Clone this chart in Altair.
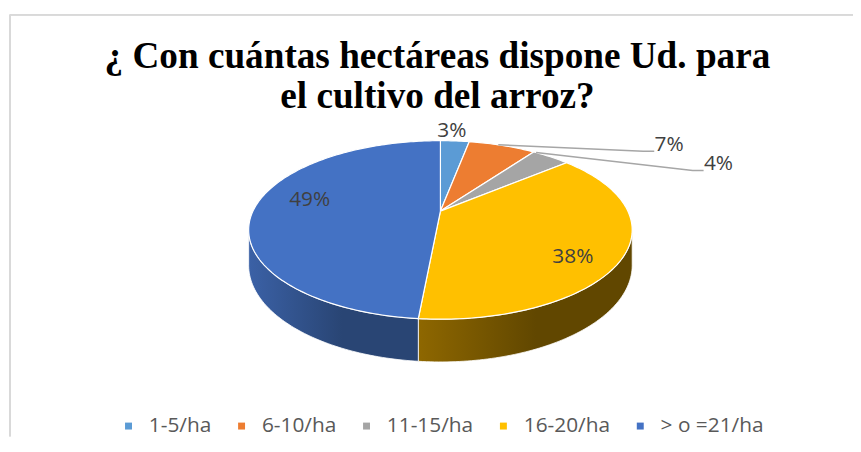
import math
import altair as alt
import pandas as pd

# ---------------- data ----------------
categories = ["1-5/ha", "6-10/ha", "11-15/ha", "16-20/ha", "> o =21/ha"]
percent_values = [3, 7, 4, 38, 49]
percent_labels = ["3%", "7%", "4%", "38%", "49%"]

title_lines = ["¿ Con cuántas hectáreas dispone Ud. para", "el cultivo del arroz?"]

# ---------------- styles ----------------
top_colors = ["#5B9BD5", "#ED7D31", "#A5A5A5", "#FFC000", "#4472C4"]
side_colors = [
    ("#44749F", "#2F5275"),
    ("#B25E25", "#7E421A"),
    ("#7D7D7D", "#585858"),
    ("#8E6700", "#614700"),
    ("#3B61A6", "#294574"),
]

# ---------------- layout (plot-area pixel units) ----------------
W, H = 852, 425
CX, CY = 436, 198
RX, RY, K, DEPTH = 189, 86, 0.211, 34

# label placement: angle shift from slice middle (deg), radius factor
label_shift = [-1.6, 34.5, 27.0, 10.0, 8.0]
label_radius = [1.17, 1.725, 1.787, 0.80, 0.73]
leader_attach = [None, 0.44, 0.07, None, None]


def project(theta_deg, r=1.0, drop=0.0):
    t = math.radians(theta_deg)
    X = r * math.sin(t)
    Z = -r * math.cos(t)
    den = 1 - K * Z
    return CX + RX * X / den, CY + (RY * Z + drop) / den


def arc(t0, t1, drop=0.0):
    n = max(2, int(math.ceil(abs(t1 - t0))) + 1)
    return [project(t0 + (t1 - t0) * j / (n - 1), 1.0, drop) for j in range(n)]


total = sum(percent_values)
starts, ends = [], []
acc = 0.0
for v in percent_values:
    starts.append(acc / total * 360)
    acc += v
    ends.append(acc / total * 360)

# top faces
top_rows = []
for cat, t0, t1 in zip(categories, starts, ends):
    pts = [(CX, CY)] + arc(t0, t1) + [(CX, CY)]
    for i, (x, y) in enumerate(pts):
        top_rows.append({"slice": cat, "i": i, "x": x, "y": y})
top_df = pd.DataFrame(top_rows)

# side walls (front, visible part)
lo = math.degrees(math.acos(-K))
hi = 360 - lo
side_layers = []
for idx, (cat, t0, t1) in enumerate(zip(categories, starts, ends)):
    s0, s1 = max(t0, lo), min(t1, hi)
    if s1 <= s0:
        continue
    pts = arc(s0, s1) + arc(s1, s0, DEPTH)
    pts.append(pts[0])
    df = pd.DataFrame([{"slice": cat, "i": i, "x": x, "y": y} for i, (x, y) in enumerate(pts)])
    c0, c1 = side_colors[idx]
    grad = alt.LinearGradient(
        gradient="linear",
        stops=[alt.GradientStop(color=c0, offset=0), alt.GradientStop(color=c1, offset=0.55),
               alt.GradientStop(color=c1, offset=1)],
        x1=0, x2=1, y1=0, y2=0,
    )
    side_layers.append((df, grad))

# labels and leader lines
label_rows, leader_rows = [], []
for idx, (lab, t0, t1) in enumerate(zip(percent_labels, starts, ends)):
    mid = (t0 + t1) / 2 + label_shift[idx]
    lx, ly = project(mid, label_radius[idx])
    label_rows.append({"label": lab, "x": lx, "y": ly})
    if leader_attach[idx] is not None:
        ax, ay = project(t0 + (t1 - t0) * leader_attach[idx], 1.0)
        for i, (x, y) in enumerate([(ax, ay), (lx - 26, ly + 6), (lx - 15, ly + 6)]):
            leader_rows.append({"label": lab, "i": i, "x": x, "y": y})
label_df = pd.DataFrame(label_rows)
leader_df = pd.DataFrame(leader_rows)

xs = alt.X("x:Q", scale=alt.Scale(domain=[0, W], nice=False, zero=False), axis=None)
ys = alt.Y("y:Q", scale=alt.Scale(domain=[0, H], reverse=True, nice=False, zero=False), axis=None)

layers = []
for df, grad in side_layers:
    layers.append(
        alt.Chart(df).mark_line(filled=True, fill=grad, stroke="white", strokeWidth=0.8)
        .encode(x=xs, y=ys, order="i:Q")
    )

tops = alt.Chart(top_df).mark_line(filled=True, stroke="white", strokeWidth=1.2).encode(
    x=xs, y=ys, order="i:Q",
    color=alt.Color(
        "slice:N",
        sort=categories,
        scale=alt.Scale(domain=categories, range=top_colors),
        legend=alt.Legend(
            title=None, orient="none", legendX=111, legendY=404, direction="horizontal",
            symbolType="square", symbolSize=49, symbolStrokeWidth=0, symbolOpacity=1,
            labelFont="Open Sans", labelFontSize=21, labelColor="#595959",
            labelOffset=10, columnPadding=19, padding=0, columns=5,
        ),
    ),
)
layers.append(tops)

leaders = alt.Chart(leader_df).mark_line(color="#A6A6A6", strokeWidth=1.5).encode(
    x=xs, y=ys, order="i:Q", detail="label:N"
)
layers.append(leaders)

labels = alt.Chart(label_df).mark_text(
    font="Open Sans", fontSize=21, color="#404040", align="center", baseline="middle"
).encode(x=xs, y=ys, text="label:N")
layers.append(labels)

border_left = alt.Chart(label_df).mark_rule(color="#D9D9D9", strokeWidth=1.5).encode(
    x=alt.value(2), y=alt.value(0), y2=alt.value(H)
)
border_top = alt.Chart(label_df).mark_rule(color="#D9D9D9", strokeWidth=1.5).encode(
    x=alt.value(2), x2=alt.value(W), y=alt.value(0)
)
layers += [border_left, border_top]

chart = alt.layer(*layers).properties(
    width=W,
    height=H,
    autosize=alt.AutoSizeParams(type="none"),
    padding={"left": 0, "top": 5, "right": 0, "bottom": 0},
    background="white",
    title=alt.TitleParams(
        text=title_lines, font="Liberation Serif", fontSize=37.5, fontWeight="bold",
        color="#000000", anchor="middle", lineHeight=40, offset=-102, dx=7,
    ),
).configure_view(strokeWidth=0)

chart.save("out.html", embed_options={"renderer": "svg", "actions": False})
